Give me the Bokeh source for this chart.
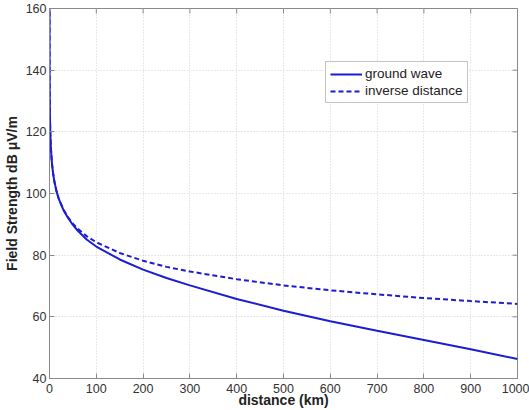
from bokeh.plotting import figure
from bokeh.models import Range1d, Legend, LegendItem, FixedTicker
from bokeh.embed import file_html
from bokeh.resources import INLINE

# distances (km)
distance = [0.01, 0.02, 0.05, 0.1, 0.2, 0.5, 1, 2, 3, 5, 7, 10, 15, 20, 30, 40, 50, 60,
            80, 100, 150, 200, 250, 300, 400, 500, 600, 700, 800, 900, 1000]
# field strength dB uV/m
inverse_distance = [164.2, 158.2, 150.2, 144.2, 138.2, 130.2, 124.2, 118.2, 114.7, 110.2,
                    107.3, 104.2, 100.7, 98.2, 94.7, 92.2, 90.2, 88.6, 86.1, 84.2, 80.7,
                    78.2, 76.2, 74.7, 72.2, 70.2, 68.6, 67.3, 66.1, 65.1, 64.2]
ground_wave = [164.2, 158.2, 150.2, 144.2, 138.2, 130.2, 124.2, 118.2, 114.7, 110.2,
               107.3, 104.2, 100.7, 98.2, 94.6, 92.0, 89.8, 88.0, 85.0, 82.8, 78.6,
               75.3, 72.6, 70.2, 65.8, 62.0, 58.6, 55.5, 52.5, 49.5, 46.3]

x_ticks = [0, 100, 200, 300, 400, 500, 600, 700, 800, 900, 1000]
y_ticks = [40, 60, 80, 100, 120, 140, 160]
x_min, x_max = 0, 1000
y_min, y_max = 40, 160

FONT = "Liberation Sans"
BLUE = "#1c1cd2"
AXC = "#8a8a8a"

p = figure(width=529, height=410, output_backend="svg", toolbar_location=None,
           x_range=Range1d(x_min, x_max), y_range=Range1d(y_min, y_max),
           min_border_left=49, min_border_right=12, min_border_top=8, min_border_bottom=32,
           background_fill_color="white", border_fill_color="white")
p.outline_line_color = AXC
p.outline_line_width = 1

p.grid.grid_line_color = "#d0d0d0"
p.grid.grid_line_dash = "1 2"
p.grid.grid_line_width = 1
p.xgrid.ticker = FixedTicker(ticks=x_ticks)
p.ygrid.ticker = FixedTicker(ticks=y_ticks)

# inward tick marks on the top and right edges (clipped half by the frame)
p.scatter(x_ticks, [y_max] * len(x_ticks), marker="dash", size=10, angle=1.5708,
          line_color=AXC, line_width=1)
p.scatter([x_max] * len(y_ticks), y_ticks, marker="dash", size=10,
          line_color=AXC, line_width=1)

r1 = p.line(distance, ground_wave, line_color=BLUE, line_width=2)
r2 = p.line(distance, inverse_distance, line_color=BLUE, line_width=2, line_dash="5 3")

for ax in p.xaxis + p.yaxis:
    ax.major_tick_in = 5
    ax.major_tick_out = 0
    ax.minor_tick_in = 0
    ax.minor_tick_out = 0
    ax.axis_line_color = AXC
    ax.major_tick_line_color = AXC
    ax.major_label_text_font = FONT
    ax.major_label_text_font_size = "12.5px"
    ax.major_label_text_color = "#333333"
    ax.axis_label_text_font = FONT
    ax.axis_label_text_font_size = "14px"
    ax.axis_label_text_font_style = "bold"
    ax.axis_label_text_color = "#222222"

p.xaxis.ticker = FixedTicker(ticks=x_ticks)
p.yaxis.ticker = FixedTicker(ticks=y_ticks)
p.xaxis.axis_label = "distance (km)"
p.yaxis.axis_label = "Field Strength dB \u03bcV/m"
p.xaxis.major_label_standoff = 5
p.xaxis.axis_label_standoff = -4
p.yaxis.major_label_standoff = 3
p.yaxis.axis_label_standoff = 3

legend = Legend(items=[LegendItem(label="ground wave", renderers=[r1]),
                       LegendItem(label="inverse distance", renderers=[r2])],
                location=(276, 275), border_line_color=AXC,
                background_fill_alpha=1, label_text_font=FONT,
                label_text_font_size="13.5px", label_text_color="#222222",
                glyph_width=32, glyph_height=14, label_standoff=3,
                padding=4, spacing=2, margin=0, label_height=14)
p.add_layout(legend)

open("out.html", "w").write(file_html(p, INLINE))
